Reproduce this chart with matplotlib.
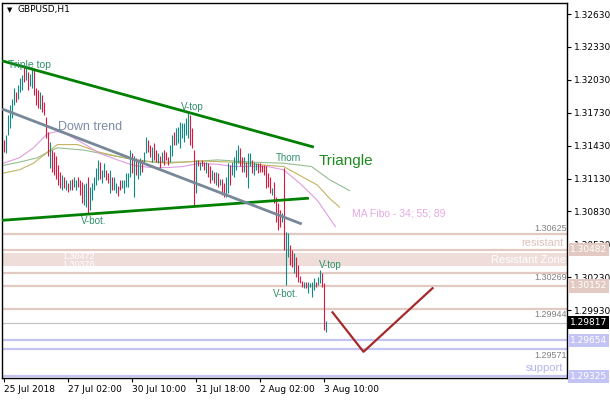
import numpy as np
import matplotlib
matplotlib.use("Agg")
import matplotlib.pyplot as plt

# GBPUSD H1 bars (bar index 0 = 25 Jul 2018)
bar_high = [1.3148, 1.3153, 1.3171, 1.3180, 1.3186, 1.3196, 1.3192, 1.3198, 1.3205, 1.3207,
            1.3217, 1.3214, 1.3210, 1.3208, 1.3214, 1.3214, 1.3196, 1.3194, 1.3192, 1.3189,
            1.3183, 1.3169, 1.3155, 1.3146, 1.3139, 1.3137, 1.3134, 1.3125, 1.3119, 1.3116,
            1.3114, 1.3112, 1.3109, 1.3112, 1.3113, 1.3114, 1.3112, 1.3114, 1.3112, 1.3110,
            1.3108, 1.3109, 1.3114, 1.3105, 1.3109, 1.3114, 1.3123, 1.3130, 1.3128, 1.3121,
            1.3127, 1.3121, 1.3118, 1.3121, 1.3114, 1.3114, 1.3109, 1.3106, 1.3112, 1.3112,
            1.3112, 1.3118, 1.3118, 1.3139, 1.3136, 1.3134, 1.3132, 1.3130, 1.3132, 1.3130,
            1.3137, 1.3151, 1.3148, 1.3144, 1.3142, 1.3145, 1.3139, 1.3136, 1.3134, 1.3137,
            1.3139, 1.3137, 1.3133, 1.3144, 1.3153, 1.3155, 1.3159, 1.3160, 1.3165, 1.3164,
            1.3164, 1.3168, 1.3173, 1.3171, 1.3159, 1.3139, 1.3130, 1.3130, 1.3128, 1.3130,
            1.3128, 1.3128, 1.3127, 1.3124, 1.3121, 1.3119, 1.3119, 1.3118, 1.3113, 1.3113,
            1.3109, 1.3114, 1.3127, 1.3125, 1.3128, 1.3133, 1.3139, 1.3144, 1.3141, 1.3133,
            1.3133, 1.3128, 1.3136, 1.3136, 1.3130, 1.3128, 1.3127, 1.3127, 1.3127, 1.3125,
            1.3125, 1.3124, 1.3118, 1.3114, 1.3104, 1.3110, 1.3096, 1.3091, 1.3084, 1.3082,
            1.3123, 1.3064, 1.3063, 1.3052, 1.3048, 1.3045, 1.3041, 1.3034, 1.3024, 1.3020,
            1.3019, 1.3019, 1.3019, 1.3018, 1.3019, 1.3022, 1.3019, 1.3023, 1.3030, 1.3027,
            1.3018, 1.2983]
bar_low = [1.3137, 1.3136, 1.3153, 1.3159, 1.3168, 1.3180, 1.3183, 1.3186, 1.3192, 1.3194,
           1.3201, 1.3203, 1.3194, 1.3197, 1.3196, 1.3189, 1.3180, 1.3177, 1.3176, 1.3174,
           1.3171, 1.3150, 1.3134, 1.3123, 1.3119, 1.3116, 1.3113, 1.3107, 1.3104, 1.3103,
           1.3104, 1.3103, 1.3101, 1.3103, 1.3103, 1.3105, 1.3103, 1.3105, 1.3098, 1.3091,
           1.3089, 1.3087, 1.3081, 1.3084, 1.3093, 1.3103, 1.3107, 1.3112, 1.3113, 1.3109,
           1.3114, 1.3112, 1.3109, 1.3100, 1.3103, 1.3103, 1.3100, 1.3097, 1.3103, 1.3104,
           1.3100, 1.3105, 1.3105, 1.3114, 1.3118, 1.3096, 1.3116, 1.3113, 1.3116, 1.3119,
           1.3128, 1.3136, 1.3137, 1.3133, 1.3128, 1.3130, 1.3128, 1.3127, 1.3123, 1.3128,
           1.3125, 1.3130, 1.3125, 1.3128, 1.3134, 1.3144, 1.3144, 1.3145, 1.3141, 1.3150,
           1.3146, 1.3153, 1.3150, 1.3144, 1.3141, 1.3089, 1.3100, 1.3124, 1.3121, 1.3124,
           1.3121, 1.3118, 1.3114, 1.3109, 1.3112, 1.3109, 1.3107, 1.3105, 1.3107, 1.3098,
           1.3096, 1.3096, 1.3100, 1.3107, 1.3116, 1.3114, 1.3121, 1.3127, 1.3124, 1.3119,
           1.3119, 1.3114, 1.3104, 1.3124, 1.3118, 1.3116, 1.3121, 1.3118, 1.3119, 1.3119,
           1.3116, 1.3104, 1.3105, 1.3100, 1.3098, 1.3091, 1.3073, 1.3066, 1.3069, 1.3073,
           1.3048, 1.3016, 1.3041, 1.3034, 1.3032, 1.3027, 1.3023, 1.3019, 1.3018, 1.3014,
           1.3013, 1.3013, 1.3009, 1.3014, 1.3005, 1.3011, 1.3014, 1.3016, 1.3018, 1.3014,
           1.2975, 1.2973]
bar_up = [0, 1, 1, 1, 1, 1, 0, 1, 1, 1,
          0, 1, 0, 1, 1, 0, 0, 0, 1, 0,
          0, 0, 0, 1, 0, 0, 0, 0, 0, 1,
          0, 1, 0, 1, 0, 1, 1, 0, 0, 0,
          1, 1, 0, 1, 1, 1, 1, 1, 0, 1,
          1, 0, 0, 1, 0, 1, 1, 0, 0, 1,
          1, 1, 1, 1, 0, 1, 0, 1, 1, 0,
          1, 1, 0, 0, 1, 0, 0, 1, 0, 1,
          0, 0, 0, 1, 1, 0, 1, 1, 1, 1,
          1, 1, 1, 0, 0, 0, 1, 0, 1, 0,
          0, 1, 0, 0, 1, 0, 1, 0, 1, 0,
          0, 1, 1, 0, 1, 1, 1, 1, 0, 0,
          1, 0, 1, 1, 0, 1, 1, 0, 0, 0,
          0, 0, 0, 0, 1, 0, 0, 0, 0, 1,
          0, 1, 1, 0, 0, 1, 0, 0, 0, 0,
          1, 0, 1, 1, 1, 1, 0, 1, 1, 0,
          0, 1]
last_close = 1.29817

# MA Fibo 34 / 55 / 89 (shifted lines), sampled along the chart
ma34_idx = [0, 8, 15, 22, 27, 32, 40, 48, 57, 65, 74, 82, 90, 98, 107, 115, 124, 132, 140, 148, 157, 166]
ma34_val = [1.3127, 1.3132, 1.3141, 1.3154, 1.3156, 1.3153, 1.3145, 1.3136, 1.3130, 1.3125, 1.3123,
            1.3123, 1.3124, 1.3127, 1.3126, 1.3124, 1.3124, 1.3124, 1.3121, 1.3109, 1.3093, 1.3069]
ma55_idx = [0, 8, 15, 22, 27, 37, 48, 65, 82, 98, 115, 132, 140, 148, 157, 163, 168]
ma55_val = [1.3118, 1.3121, 1.3127, 1.3137, 1.3144, 1.3144, 1.3137, 1.3130, 1.3127, 1.3129, 1.3128,
            1.3125, 1.3124, 1.3116, 1.3107, 1.3095, 1.3087]
ma89_idx = [0, 8, 17, 22, 27, 40, 57, 74, 90, 107, 124, 140, 154, 163, 173]
ma89_val = [1.3125, 1.3128, 1.3132, 1.3137, 1.3141, 1.3139, 1.3133, 1.3128, 1.3128, 1.3130, 1.3128,
            1.3127, 1.3124, 1.3112, 1.3102]

# drawn objects
tri_upper_idx, tri_upper_val = [0, 154.5], [1.3220, 1.3142]
tri_lower_idx, tri_lower_val = [0, 152], [1.3075, 1.3095]
down_idx, down_val = [0, 148.5], [1.3176, 1.3072]
fcast_idx, fcast_val = [164.5, 180, 214.5], [1.2991, 1.2955, 1.3013]

resist_levels = [1.30625, 1.30482, 1.30269, 1.30152, 1.29944]
zone_lo, zone_hi = 1.3033, 1.3045
support_levels = [1.29654, 1.29571, 1.29325]

y_ticks = [1.32630, 1.32330, 1.32030, 1.31730, 1.31430, 1.31130, 1.30830, 1.30530, 1.30230, 1.29930]
x_ticks = [0, 32, 64, 96, 128, 160]
x_labels = ['25 Jul 2018', '27 Jul 02:00', '30 Jul 10:00', '31 Jul 18:00', '2 Aug 02:00', '3 Aug 10:00']

UP = '#0f8a82'
DOWN = '#e0143c'
RES = '#e2cac3'
SUP = '#c4c4f4'
LBL = '#2f8f6a'

fig = plt.figure(figsize=(6.1, 4.0), dpi=100)
ax = fig.add_axes([2 / 610, 22 / 400, 565 / 610, 375 / 400])
ax.set_xlim(-0.75, 281.75)
ax.set_ylim(1.29311, 1.32731)

# levels
ax.axhspan(zone_lo, zone_hi, color='#eeddd9', lw=0, zorder=1)
for p in resist_levels:
    ax.axhline(p, color=RES, lw=1.6, zorder=1)
for p in support_levels:
    ax.axhline(p, color=SUP, lw=1.6, zorder=1)
ax.axhline(last_close, color='#c0c0c0', lw=0.8, zorder=1)

# moving averages
ax.plot(ma89_idx, ma89_val, color='#93bf8f', lw=0.8, zorder=2)
ax.plot(ma55_idx, ma55_val, color='#c4b462', lw=0.8, zorder=2)
ax.plot(ma34_idx, ma34_val, color='#e09ce0', lw=0.8, zorder=2)

# bars (1 px wide, on pixel centres)
idx = np.arange(len(bar_high))
cols = [UP if u else DOWN for u in bar_up]
ax.vlines(idx, bar_low, bar_high, colors=cols, lw=0.8, zorder=3)

# trend lines
ax.plot(tri_upper_idx, tri_upper_val, color='#008000', lw=2.0, zorder=4)
ax.plot(tri_lower_idx, tri_lower_val, color='#008000', lw=2.0, zorder=4)
ax.plot(down_idx, down_val, color='#778899', lw=2.0, zorder=4)
ax.plot(fcast_idx, fcast_val, color='#a52a2a', lw=1.6, zorder=4)

# labels on the chart
tf = dict(family='Liberation Sans', zorder=5)
ax.text(2.5, 1.32165, 'Triple top', color=LBL, fontsize=7.5, va='center', **tf)
ax.text(27, 1.31600, 'Down trend', color='#7c8ba6', fontsize=9, va='center', **tf)
ax.text(88.5, 1.31782, 'V-top', color=LBL, fontsize=7, va='center', **tf)
ax.text(38.5, 1.30743, 'V-bot.', color=LBL, fontsize=7, va='center', **tf)
ax.text(136, 1.31317, 'Thorn', color=LBL, fontsize=7, va='center', **tf)
ax.text(157.5, 1.31290, 'Triangle', color='#1e8a1e', fontsize=11, va='center', **tf)
ax.text(174.5, 1.30815, 'MA Fibo - 34; 55; 89', color='#e6a8e6', fontsize=7.5, va='center', **tf)
ax.text(157.5, 1.30341, 'V-top', color=LBL, fontsize=7, va='center', **tf)
ax.text(134.5, 1.30077, 'V-bot.', color=LBL, fontsize=7, va='center', **tf)
ax.text(280, 1.30542, 'resistant', color='#dcc2ba', fontsize=8, ha='right', va='center', **tf)
ax.text(281.5, 1.30387, 'Resistant Zone', color='white', fontsize=8, ha='right', va='center', **tf)
ax.text(280, 1.29402, 'support', color='#b4b4ee', fontsize=8, ha='right', va='center', **tf)
for p, y in [(1.30625, 1.30679), (1.30269, 1.30232), (1.29944, 1.29894), (1.29571, 1.29520)]:
    ax.text(281.5, y, f'{p:.5f}', color='#808080', fontsize=6.5, ha='right', va='center', **tf)
ax.text(37.5, 1.30423, '1.30472', color='white', fontsize=6.5, ha='center', va='center', **tf)
ax.text(37.5, 1.30345, '1.30376', color='white', fontsize=6.5, ha='center', va='center', **tf)

ax.text(0.008, 0.982, '\u25bc', transform=ax.transAxes, fontsize=5, va='center', color='black')
ax.text(0.028, 0.982, 'GBPUSD,H1', transform=ax.transAxes, fontsize=6.5, va='center', color='black')

# axes
ax.yaxis.tick_right()
ax.set_yticks(y_ticks)
ax.set_yticklabels([f'{t:.5f}' for t in y_ticks])
ax.set_xticks(x_ticks)
ax.set_xticklabels(x_labels)
for lab in ax.get_xticklabels():
    lab.set_ha('left')
ax.tick_params(axis='both', labelsize=6.5, length=3, width=0.8, pad=2, colors='black')
for s in ax.spines.values():
    s.set_linewidth(1.0)
    s.set_color('black')


def price_box(p, fc):
    ax.annotate(f'{p:.5f}', xy=(1, p), xycoords=('axes fraction', 'data'), xytext=(2, 0),
                textcoords='offset points', ha='left', va='center', fontsize=6.5, color='white',
                bbox=dict(boxstyle='square,pad=0.25', fc=fc, ec='none'),
                annotation_clip=False, zorder=10)


price_box(1.30482, '#e2cac3')
price_box(1.30152, '#e2cac3')
price_box(last_close, 'black')
price_box(1.29654, '#c4c4f4')
price_box(1.29325, '#c4c4f4')

fig.savefig('out.png', dpi=100, facecolor='white')
